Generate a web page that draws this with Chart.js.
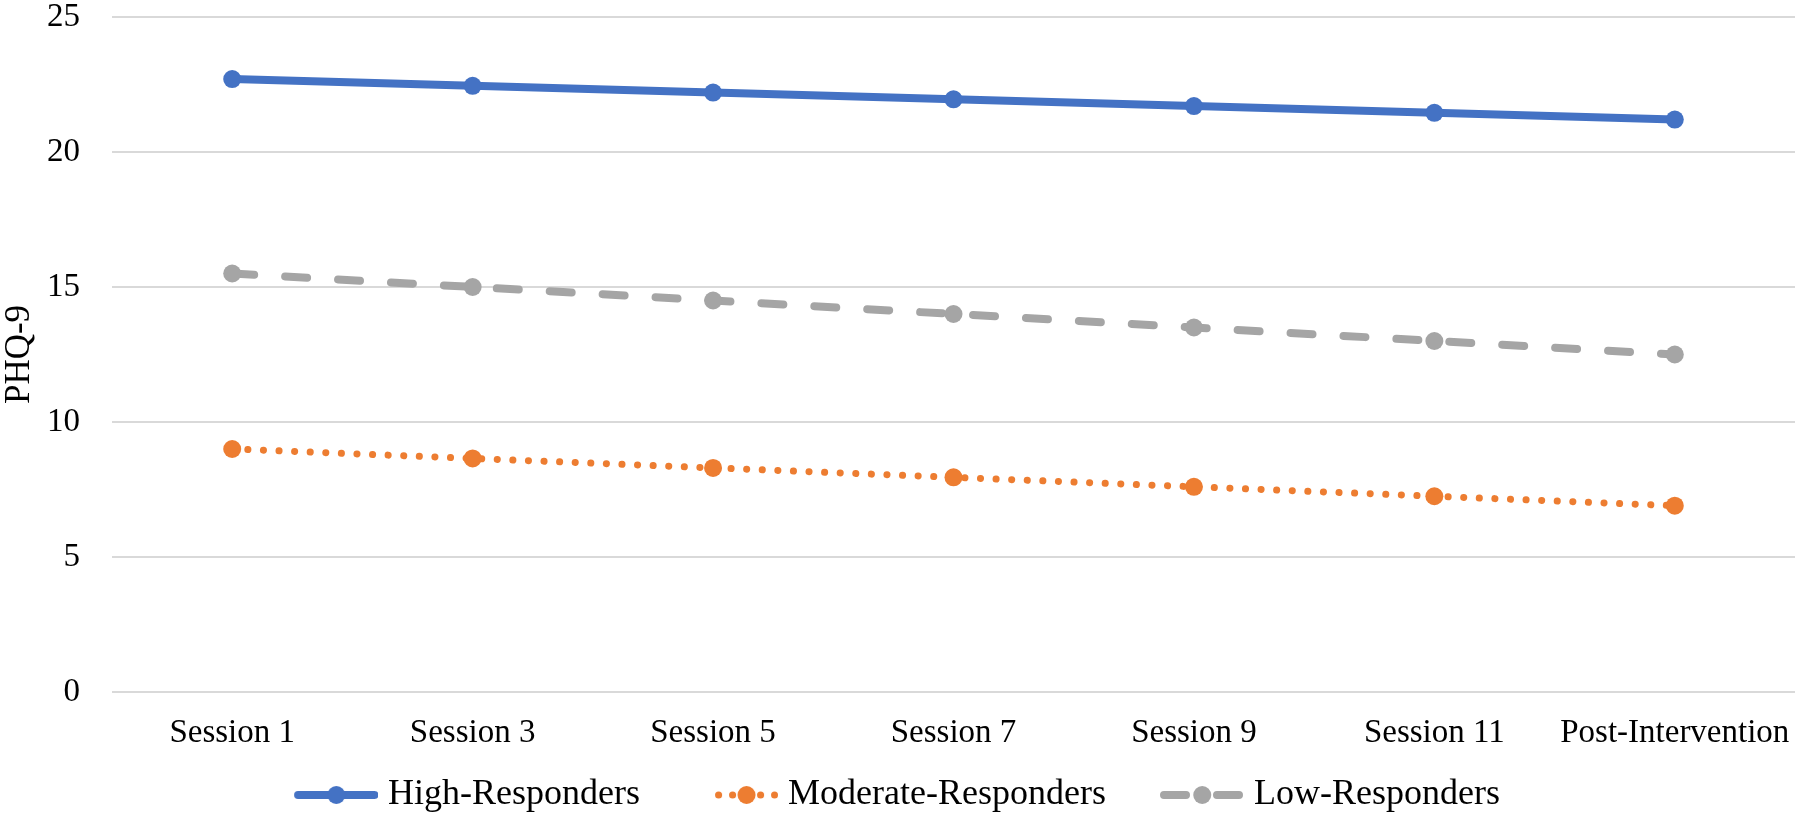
<!DOCTYPE html>
<html>
<head>
<meta charset="utf-8">
<script src="https://cdn.jsdelivr.net/npm/chart.js@4/dist/chart.umd.min.js"></script>
<style>
    html, body { margin: 0; padding: 0; background: #fff; }
    #wrap { width: 1800px; height: 823px; }
</style>
</head>
<body>
<div id="wrap"><canvas id="chart"></canvas></div>
<script>
// Chart data
const sessions = ['Session 1', 'Session 3', 'Session 5', 'Session 7', 'Session 9', 'Session 11', 'Post-Intervention'];
const highResponders = [22.7, 22.45, 22.2, 21.95, 21.7, 21.45, 21.2];
const moderateResponders = [9.0, 8.65, 8.3, 7.95, 7.6, 7.25, 6.9];
const lowResponders = [15.5, 15.0, 14.5, 14.0, 13.5, 13.0, 12.5];
const yTicks = [0, 5, 10, 15, 20, 25];

const BLUE = '#4472C4';
const ORANGE = '#ED7D31';
const GRAY = '#A5A5A5';
const FONT = "'Liberation Serif', 'Times New Roman', serif";

// Legend marker image: a short line with a dot, pushed to the right
// so it sits close to its label text
function legendMarker(color, width, dash, x0) {
    const c = document.createElement('canvas');
    c.width = 121;
    c.height = 20;
    const g = c.getContext('2d');
    const x1 = 117.5;
    g.strokeStyle = color;
    g.fillStyle = color;
    g.lineWidth = width;
    g.lineCap = 'round';
    g.setLineDash(dash);
    g.beginPath();
    g.moveTo(x0, 10);
    g.lineTo(x1, 10);
    g.stroke();
    g.beginPath();
    g.arc((x0 + x1) / 2, 10, 9, 0, Math.PI * 2);
    g.fill();
    return c;
}

const markers = [
    legendMarker(BLUE, 8, [], 41),
    legendMarker(ORANGE, 7, [0.1, 13.9], 61.5),
    legendMarker(GRAY, 8, [22, 31], 41)
];

// Nudge the legend row a little to the left, like the original
const legendShift = {
    id: 'legendShift',
    afterLayout(chart) {
        chart.legend.right -= 30;
    }
};

const ctx = document.getElementById('chart').getContext('2d');
const chart = new Chart(ctx, {
    type: 'line',
    data: {
        labels: sessions,
        datasets: [
            {
                label: 'High-Responders',
                data: highResponders,
                borderColor: BLUE,
                backgroundColor: BLUE,
                borderWidth: 8,
                pointRadius: 9,
                pointBorderWidth: 0,
                borderCapStyle: 'round'
            },
            {
                label: 'Moderate-Responders',
                data: moderateResponders,
                borderColor: ORANGE,
                backgroundColor: ORANGE,
                borderWidth: 7,
                borderDash: [0.1, 15.5],
                borderCapStyle: 'round',
                pointRadius: 9,
                pointBorderWidth: 0
            },
            {
                label: 'Low-Responders',
                data: lowResponders,
                borderColor: GRAY,
                backgroundColor: GRAY,
                borderWidth: 8,
                borderDash: [22, 31],
                borderCapStyle: 'round',
                pointRadius: 9,
                pointBorderWidth: 0
            }
        ]
    },
    plugins: [legendShift],
    options: {
        responsive: true,
        maintainAspectRatio: false,
        animation: false,
        layout: { autoPadding: false, padding: { top: 17, right: 5, left: 0, bottom: 0 } },
        plugins: {
            tooltip: { enabled: false },
            legend: {
                position: 'bottom',
                labels: {
                    usePointStyle: true,
                    pointStyleWidth: 105,
                    padding: 25,
                    color: '#000',
                    font: { family: FONT, size: 36 },
                    generateLabels: chart => {
                        const items = Chart.defaults.plugins.legend.labels.generateLabels(chart);
                        items.forEach((item, i) => { item.pointStyle = markers[i]; });
                        return items;
                    }
                }
            }
        },
        scales: {
            x: {
                offset: true,
                grid: { display: false },
                border: { display: false },
                ticks: {
                    color: '#000',
                    font: { family: FONT, size: 33 },
                    padding: 14,
                    autoSkip: false,
                    maxRotation: 0
                },
                afterFit: scale => {
                    scale.height = 60;
                    scale.paddingLeft = 0;
                    scale.paddingRight = 0;
                }
            },
            y: {
                min: 0,
                max: 25,
                afterBuildTicks: scale => {
                    scale.ticks = yTicks.map(v => ({ value: v }));
                },
                grid: { color: '#D9D9D9', lineWidth: 2, drawTicks: false },
                border: { display: false },
                ticks: {
                    color: '#000',
                    font: { family: FONT, size: 33, lineHeight: 1.0 },
                    padding: 32
                },
                title: {
                    display: true,
                    text: 'PHQ-9',
                    color: '#000',
                    font: { family: FONT, size: 35, lineHeight: 1.0 },
                    padding: { top: 2, bottom: 0 }
                },
                afterFit: scale => {
                    scale.width = 112;
                    scale.paddingTop = 0;
                    scale.paddingBottom = 0;
                }
            }
        }
    }
});
</script>
</body>
</html>
